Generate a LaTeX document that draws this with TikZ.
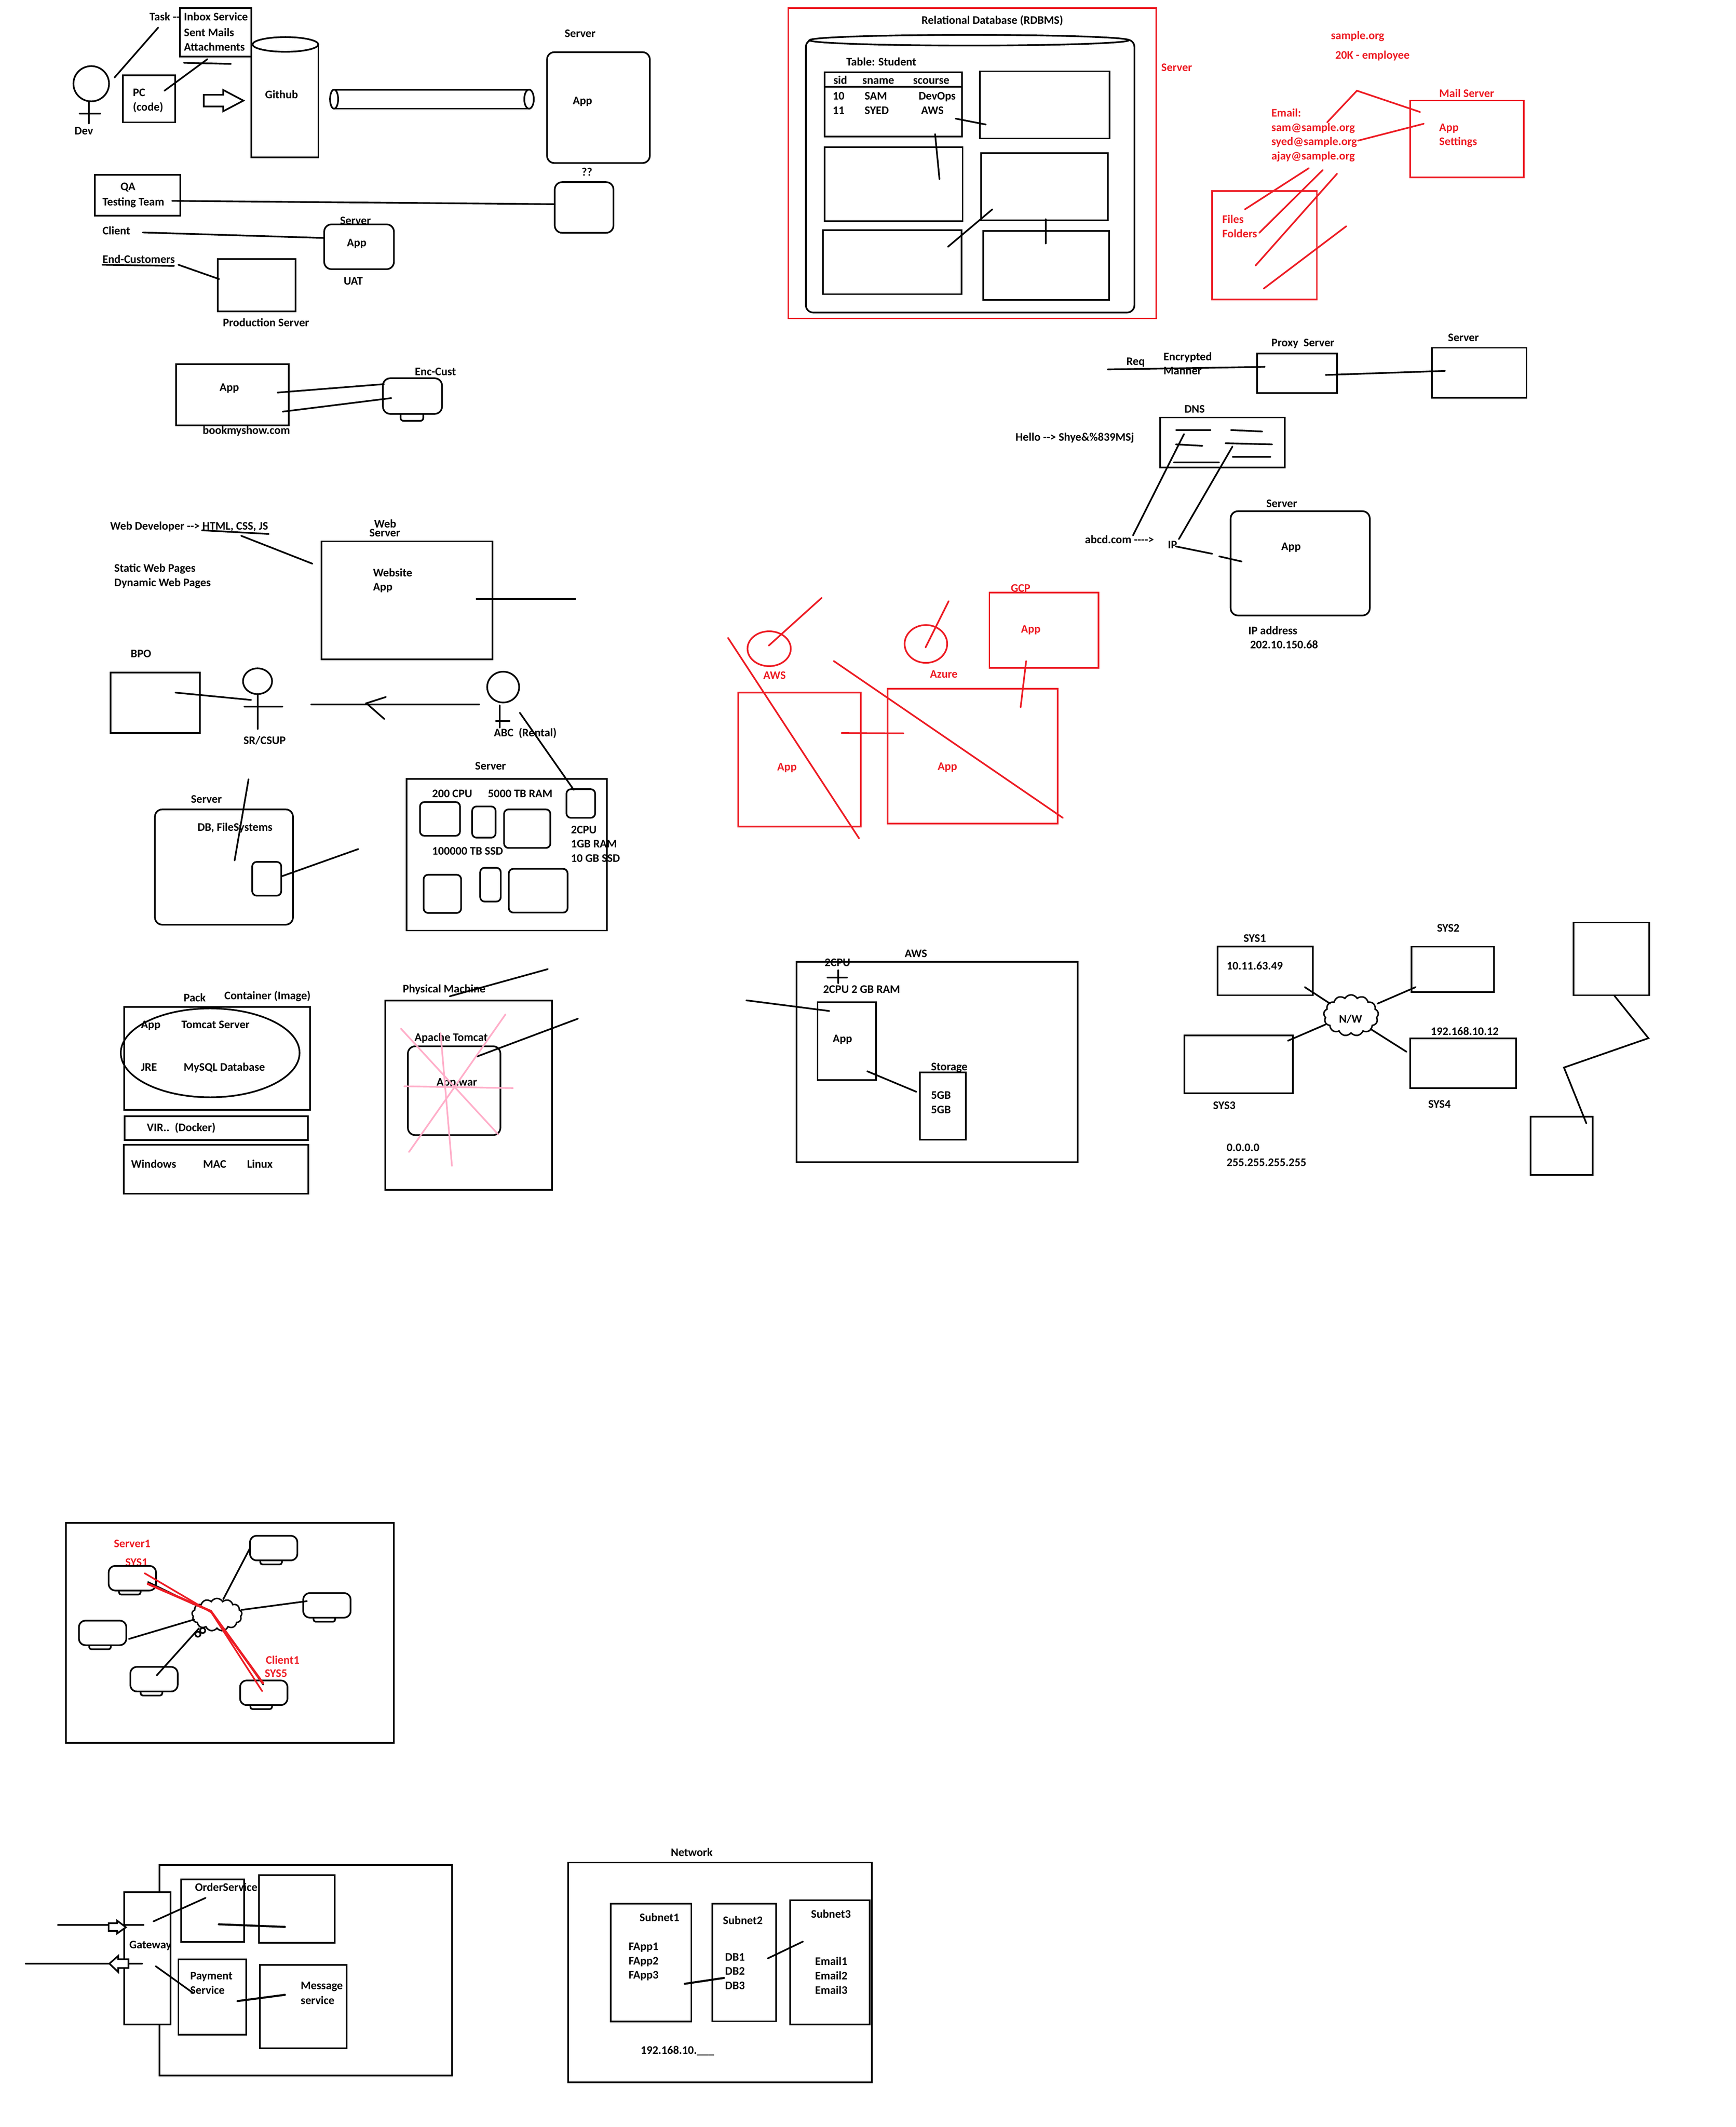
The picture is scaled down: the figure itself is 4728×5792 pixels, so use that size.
\documentclass[tikz,border=0pt]{standalone}
\usepackage{fontspec}
\setmainfont{Carlito}
\usetikzlibrary{shapes.geometric,shapes.symbols}
\definecolor{pred}{HTML}{ED1C24}
\definecolor{ppink}{HTML}{FFAEC9}
\newcount\tcnt
\newcount\lcnt
\tikzset{
 lbl/.style={font=\bfseries\fontsize{31.5}{36}\selectfont,anchor=west,inner sep=0pt,text height=22pt,text depth=7pt,yshift=-3pt},
 redt/.style={text=pred},
 box/.style={draw=black,line width=4.5pt,fill=none,inner sep=0pt,outer sep=0pt,rectangle},
 rbox/.style={box,rounded corners=20pt},
 sbox/.style={box,rounded corners=12pt},
 wbox/.style={box,fill=white},
 redbox/.style={box,draw=pred},
 ell/.style={draw=black,line width=4.5pt,ellipse,inner sep=0pt,outer sep=0pt,fill=none},
 redell/.style={ell,draw=pred},
 ln/.style={draw=black,line width=4.5pt,line cap=round},
 thk/.style={ln,line width=5.5pt},
 rl/.style={ln,draw=pred},
 rthk/.style={ln,draw=pred,line width=6.5pt},
 pk/.style={ln,draw=ppink},
 cld/.style={draw=black,line width=4pt,cloud,cloud puffs=13,cloud puff arc=120,aspect=1.4,inner sep=0pt,outer sep=0pt},
}
\newcommand\tx[4][]{\global\advance\tcnt by 1\relax\node[lbl,#1] (t\the\tcnt) at (#2,#3) {#4};}
\newcommand\bx[6][box]{\pgfmathsetmacro\bw{(#5)-(#3)}\pgfmathsetmacro\bh{(#6)-(#4)}\pgfmathsetmacro\bcx{((#3)+(#5))/2}\pgfmathsetmacro\bcy{((#4)+(#6))/2}\node[#1,minimum width=\bw pt,minimum height=\bh pt] (#2) at (\bcx,\bcy) {};}
\newcommand\el[6][ell]{\pgfmathsetmacro\bw{(#5)-(#3)}\pgfmathsetmacro\bh{(#6)-(#4)}\pgfmathsetmacro\bcx{((#3)+(#5))/2}\pgfmathsetmacro\bcy{((#4)+(#6))/2}\node[#1,minimum width=\bw pt,minimum height=\bh pt] (#2) at (\bcx,\bcy) {};}
\newcommand\lnk[3][ln]{\global\advance\lcnt by 1\relax\coordinate (pa\the\lcnt) at (#2);\coordinate (pb\the\lcnt) at (#3);\draw[#1] (pa\the\lcnt) -- (pb\the\lcnt);}
\newcommand\mon[3]{\bx[box,rounded corners=6pt]{#1s}{#2+28}{#3+60}{#2+87}{#3+78}\bx[wbox,rounded corners=18pt]{#1}{#2}{#3}{#2+129}{#3+67}}
\begin{document}
\begin{tikzpicture}[x=1pt,y=-1pt]
\useasboundingbox[fill=white] (0,0) rectangle (4728,5792);
%% --- dev / github
\el{devhead}{200}{180}{297}{276}
\lnk{242,276}{242,336}
\lnk{217,309}{273,309}
\tx{203}{356}{Dev}
\lnk{312,211}{431,75}
\tx{407}{46}{Task -{}-}
\bx{inbox}{490}{22}{685}{154}
\tx{501}{46}{Inbox Service}
\tx{501}{89}{Sent Mails}
\tx{501}{128}{Attachments}
\lnk{501,171}{629,174}
\lnk{448,247}{565,161}
\bx{pc}{335}{205}{477}{333}
\tx{362}{252}{PC}
\tx{362}{291}{(code)}
\draw[line width=4.5pt,line join=miter,fill=white] (555,258) -- (608,258) -- (608,245) -- (663,274) -- (608,303) -- (608,290) -- (555,290) -- cycle;
\coordinate (gha) at (685,121);\coordinate (ghb) at (685,429);\coordinate (ghc) at (867,429);\coordinate (ghd) at (867,121);
\draw[ln,line cap=butt] (gha) -- (ghb) -- (ghc) -- (ghd);
\el[ell,fill=white]{ghtop}{688}{101}{867}{141}
\tx{722}{258}{Github}
\coordinate (pia) at (909,244);\coordinate (pib) at (1440,244);\coordinate (pic) at (909,296);\coordinate (pid) at (1440,296);
\draw[ln] (pia) -- (pib);\draw[ln] (pic) -- (pid);
\el{pil}{899}{244}{921}{296}
\el{pir}{1428}{244}{1454}{296}
\tx{1538}{91}{Server}
\bx[rbox]{srv1}{1490}{142}{1770}{444}
\tx{1560}{274}{App}
\tx{1584}{468}{??}
\bx{qa}{258}{476}{491}{587}
\tx{328}{508}{QA}
\tx{279}{550}{Testing Team}
\bx[rbox]{qq}{1511}{496}{1671}{634}
\lnk{469,547}{1511,556}
\tx{279}{628}{Client}
\bx[rbox]{uat}{883}{611}{1073}{733}
\lnk{389,633}{883,648}
\tx{926}{601}{Server}
\tx{945}{661}{App}
\tx{936}{765}{UAT}
\tx{279}{706}{End-Customers}
\lnk{279,721}{474,724}
\lnk{486,721}{597,760}
\bx{prod}{593}{705}{805}{848}
\tx{607}{878}{Production Server}
\bx{bapp}{480}{992}{787}{1158}
\tx{598}{1055}{App}
\tx{552}{1172}{bookmyshow.com}
\bx[box,rounded corners=8pt]{encs}{1091}{1120}{1153}{1146}
\bx[wbox,rounded corners=20pt]{enc}{1043}{1030}{1204}{1127}
\lnk{756,1069}{1046,1046}
\lnk{770,1121}{1066,1084}
\tx{1130}{1012}{Enc-Cust}
%% --- RDBMS
\bx[redbox]{rsrv}{2147}{22}{3150}{867}
\tx{2510}{55}{Relational Database (RDBMS)}
\tx[redt]{3163}{184}{Server}
\bx[rbox]{db}{2195}{108}{3090}{851}
\el[ell,fill=white]{dbtop}{2205}{95}{3075}{124}
\tx{2305}{168}{Table: Student}
\bx{tbl}{2246}{197}{2620}{372}
\coordinate (tha) at (2246,236);\coordinate (thb) at (2620,236);
\draw[ln] (tha) -- (thb);
\tx{2270}{218}{sid}\tx{2349}{218}{sname}\tx{2487}{218}{scourse}
\tx{2268}{261}{10}\tx{2355}{261}{SAM}\tx{2502}{261}{DevOps}
\tx{2268}{300}{11}\tx{2355}{300}{SYED}\tx{2509}{300}{AWS}
\bx{tb2}{2669}{194}{3022}{377}
\bx{tb3}{2246}{401}{2622}{602}
\bx{tb4}{2672}{417}{3018}{600}
\bx{tb5}{2241}{627}{2619}{801}
\bx{tb6}{2678}{629}{3021}{817}
\lnk{2603,323}{2685,339}
\lnk{2547,365}{2559,488}
\lnk{2582,672}{2703,570}
\lnk{2848,597}{2848,663}
%% --- mail
\tx[redt]{3625}{97}{sample.org}
\tx[redt]{3637}{150}{20K - employee}
\tx[redt]{3920}{254}{Mail Server}
\bx[redbox]{mail}{3841}{274}{4150}{483}
\tx[redt]{3920}{347}{App}
\tx[redt]{3920}{385}{Settings}
\tx[redt]{3463}{308}{Email:}
\tx[redt]{3463}{347}{sam@sample.org}
\tx[redt]{3463}{385}{syed@sample.org}
\tx[redt]{3463}{424}{ajay@sample.org}
\coordinate (ma) at (3615,333);\coordinate (mb) at (3696,247);\coordinate (mc) at (3868,305);
\draw[rl] (ma) -- (mb) -- (mc);
\lnk[rl]{3699,383}{3878,337}
\bx[redbox]{files}{3301}{520}{3587}{815}
\tx[redt]{3329}{597}{Files}
\tx[redt]{3329}{637}{Folders}
\lnk[rl]{3391,570}{3565,458}
\lnk[rl]{3430,634}{3603,463}
\lnk[rl]{3420,723}{3642,473}
\lnk[rl]{3442,786}{3667,616}
%% --- proxy / DNS
\tx{3068}{984}{Req}
\tx{3169}{971}{Encrypted}
\tx{3169}{1010}{Manner}
\lnk{3017,1006}{3445,999}
\tx{3463}{933}{Proxy\ \ Server}
\bx{proxy}{3424}{963}{3642}{1070}
\lnk{3611,1021}{3936,1010}
\tx{3944}{919}{Server}
\bx{psrv}{3900}{947}{4158}{1083}
\tx{3226}{1114}{DNS}
\bx{dns}{3160}{1137}{3499}{1273}
\tx{2766}{1190}{Hello -{}-> Shye\&\%839MSj}
\lnk{3204,1171}{3297,1171}
\lnk{3353,1171}{3438,1175}
\lnk{3203,1210}{3275,1214}
\lnk{3338,1207}{3465,1210}
\lnk{3358,1244}{3460,1244}
\lnk{3198,1259}{3320,1259}
\lnk{3225,1182}{3086,1458}
\lnk{3357,1216}{3211,1468}
\tx{2955}{1469}{abcd.com -{}-{}-{}->}
\tx{3181}{1483}{IP}
\lnk{3203,1488}{3302,1508}
\lnk{3321,1515}{3382,1529}
\tx{3449}{1371}{Server}
\bx[rbox]{ipsrv}{3352}{1392}{3731}{1676}
\tx{3490}{1488}{App}
\tx{3400}{1717}{IP address}
\tx{3405}{1755}{202.10.150.68}
%% --- clouds AWS/Azure/GCP
\el[redell]{awsc}{2036}{1719}{2154}{1814}
\lnk[rl]{2094,1758}{2238,1628}
\lnk[rl]{1983,1737}{2340,2283}
\tx[redt]{2079}{1839}{AWS}
\el[redell]{azc}{2464}{1702}{2580}{1805}
\lnk[rl]{2521,1763}{2584,1637}
\tx[redt]{2533}{1835}{Azure}
\tx[redt]{2753}{1601}{GCP}
\bx[redbox]{gcp}{2695}{1614}{2992}{1819}
\tx[redt]{2781}{1713}{App}
\lnk[rl]{2795,1800}{2780,1926}
\lnk[rl]{2271,1800}{2895,2227}
\bx[redbox]{awsb}{2011}{1886}{2345}{2251}
\tx[redt]{2117}{2088}{App}
\bx[redbox]{azb}{2418}{1875}{2881}{2243}
\tx[redt]{2554}{2087}{App}
\lnk[rl]{2292,1996}{2461,1997}
%% --- web server
\tx{300}{1432}{Web Developer -{}-> HTML, CSS, JS}
\lnk{550,1444}{732,1454}
\lnk{657,1459}{851,1535}
\tx{311}{1547}{Static Web Pages}
\tx{311}{1586}{Dynamic Web Pages}
\tx{1019}{1427}{Web}
\tx{1006}{1451}{Server}
\bx{web}{876}{1474}{1341}{1795}
\tx{1016}{1560}{Website}
\tx{1016}{1598}{App}
\lnk{1298,1631}{1567,1631}
\tx{356}{1780}{BPO}
\bx{bpo}{301}{1831}{544}{1996}
\lnk{478,1886}{684,1906}
\el{srh}{662}{1820}{741}{1890}
\lnk{702,1890}{702,1985}
\lnk{666,1924}{769,1924}
\tx{663}{2016}{SR/CSUP}
\lnk{848,1918}{1305,1918}
\coordinate (aha) at (1051,1898);\coordinate (ahb) at (998,1915);\coordinate (ahc) at (1047,1958);
\draw[ln] (aha) -- (ahb) -- (ahc);
\el{abch}{1327}{1829}{1414}{1913}
\lnk{1361,1921}{1361,1981}
\lnk{1351,1963}{1388,1963}
\tx{1345}{1995}{ABC\ \ (Rental)}
\lnk{1416,1941}{1563,2151}
\tx{1294}{2086}{Server}
\bx{bigs}{1107}{2121}{1653}{2534}
\tx{1177}{2161}{200 CPU}
\tx{1329}{2161}{5000 TB RAM}
\bx[sbox]{sa}{1144}{2184}{1253}{2276}
\bx[sbox]{sb}{1286}{2196}{1350}{2281}
\bx[sbox]{sc}{1373}{2204}{1499}{2309}
\bx[sbox]{ss}{1543}{2149}{1621}{2227}
\tx{1555}{2259}{2CPU}
\tx{1555}{2298}{1GB RAM}
\tx{1555}{2337}{10 GB SSD}
\tx{1177}{2317}{100000 TB SSD}
\bx[sbox]{sd}{1154}{2382}{1256}{2486}
\bx[sbox]{se}{1308}{2363}{1364}{2455}
\bx[sbox]{sf}{1386}{2366}{1546}{2485}
\tx{520}{2176}{Server}
\bx[rbox]{dbf}{422}{2204}{798}{2518}
\tx{538}{2252}{DB, FileSystems}
\lnk{677,2122}{639,2343}
\bx[sbox]{dbs}{687}{2347}{766}{2439}
\lnk{768,2386}{976,2312}
%% --- container
\tx{500}{2717}{Pack}
\tx{611}{2711}{Container (Image)}
\bx{pack}{338}{2742}{844}{3022}
\el{packe}{329}{2746}{816}{2988}
\tx{384}{2790}{App}
\tx{494}{2790}{Tomcat Server}
\tx{384}{2906}{JRE}
\tx{500}{2906}{MySQL Database}
\bx{vir}{339}{3040}{839}{3104}
\tx{400}{3070}{VIR..\ \ (Docker)}
\bx{os}{337}{3117}{840}{3250}
\tx{357}{3170}{Windows}
\tx{553}{3170}{MAC}
\tx{673}{3170}{Linux}
\tx{1097}{2693}{Physical Machine}
\lnk{1225,2713}{1492,2639}
\bx{phy}{1050}{2725}{1504}{3240}
\tx{1129}{2825}{Apache Tomcat}
\bx[rbox]{tom}{1111}{2849}{1363}{3091}
\tx{1189}{2946}{App.war}
\lnk{1299,2877}{1574,2774}
\lnk[pk]{1092,2801}{1357,3089}
\lnk[pk]{1377,2762}{1114,3137}
\lnk[pk]{1200,2813}{1231,3175}
\lnk[pk]{1101,2958}{1397,2963}
%% --- AWS
\tx{2464}{2596}{AWS}
\bx{awsbox}{2170}{2619}{2935}{3165}
\tx{2246}{2621}{2CPU}
\lnk{2283,2642}{2283,2677}
\lnk{2254,2662}{2307,2662}
\tx{2242}{2694}{2CPU 2 GB RAM}
\bx{awsapp}{2227}{2729}{2386}{2941}
\lnk{2033,2724}{2259,2753}
\tx{2268}{2828}{App}
\lnk{2362,2917}{2496,2973}
\tx{2536}{2905}{Storage}
\bx{stor}{2506}{2920}{2631}{3103}
\tx{2536}{2982}{5GB}
\tx{2536}{3022}{5GB}
%% --- network sys
\tx{3387}{2555}{SYS1}
\bx{sys1}{3316}{2577}{3576}{2710}
\tx{3341}{2630}{10.11.63.49}
\tx{3914}{2527}{SYS2}
\bx{sys2}{3845}{2578}{4069}{2701}
\bx{sys3}{3226}{2820}{3522}{2977}
\tx{3304}{3010}{SYS3}
\bx{sys4}{3841}{2828}{4130}{2963}
\tx{3897}{2809}{192.168.10.12}
\tx{3890}{3007}{SYS4}
\node[cld,minimum width=149pt,minimum height=112pt] (nw) at (3680,2765) {};
\tx{3647}{2775}{N/W}
\lnk{3554,2688}{3623,2733}
\lnk{3856,2688}{3752,2733}
\lnk{3610,2790}{3508,2834}
\lnk{3733,2802}{3831,2864}
\tx{3341}{3125}{0.0.0.0}
\tx{3341}{3165}{255.255.255.255}
\bx{rt}{4286}{2512}{4492}{2710}
\bx{rb}{4169}{3041}{4338}{3199}
\coordinate (za) at (4397,2711);\coordinate (zb) at (4490,2827);\coordinate (zc) at (4260,2907);\coordinate (zd) at (4321,3059);
\draw[ln] (za) -- (zb) -- (zc) -- (zd);
%% --- LAN
\bx{lan}{180}{4147}{1073}{4746}
\tx[redt]{310}{4203}{Server1}
\tx[redt]{341}{4254}{SYS1}
\mon{m1}{296}{4264}
\mon{m2}{681}{4182}
\mon{m3}{826}{4338}
\mon{m4}{215}{4413}
\mon{m5}{355}{4539}
\mon{m6}{654}{4576}
\node[cld,minimum width=136pt,minimum height=89pt] (lc) at (591,4397) {};
\el{lcb}{545}{4433}{559}{4447}
\el{lcc}{532}{4443}{546}{4457}
\lnk{m2.west}{608,4355}
\lnk{657,4384}{836,4360}
\lnk{351,4463}{529,4410}
\lnk{427,4562}{542,4434}
\lnk{717,4587}{609,4434}
\lnk{403,4308}{529,4369}
\coordinate (ra) at (394,4284);\coordinate (rb) at (576,4391);\coordinate (rc) at (714,4605);
\draw[rl] (ra) -- (rb) -- (rc);
\coordinate (rd) at (403,4313);\coordinate (re) at (574,4387);\coordinate (rf) at (716,4583);
\draw[rthk] (rd) -- (re) -- (rf);
\tx[redt]{724}{4521}{Client1}
\tx[redt]{721}{4557}{SYS5}
%% --- gateway
\bx{svc}{434}{5078}{1231}{5652}
\bx[wbox]{gw}{338}{5153}{465}{5513}
\tx{352}{5295}{Gateway}
\bx{order}{493}{5118}{665}{5288}
\tx{531}{5139}{OrderService}
\bx{ob}{705}{5106}{912}{5290}
\lnk{418,5232}{560,5168}
\lnk[thk]{596,5240}{776,5247}
\lnk{158,5242}{391,5242}
\draw[line width=4.5pt,fill=white] (296,5237) -- (319,5237) -- (319,5230) -- (343,5248) -- (319,5265) -- (319,5258) -- (296,5258) -- cycle;
\lnk{70,5347}{387,5347}
\draw[line width=4.5pt,fill=white] (298,5347) -- (322,5326) -- (322,5335) -- (350,5335) -- (350,5359) -- (322,5359) -- (322,5370) -- cycle;
\bx{pay}{486}{5336}{671}{5541}
\tx{518}{5380}{Payment}
\tx{518}{5419}{Service}
\lnk{424,5354}{526,5427}
\bx{msg}{708}{5351}{944}{5578}
\tx{819}{5407}{Message}
\tx{819}{5447}{service}
\lnk[thk]{647,5449}{776,5432}
%% --- subnet
\tx{1827}{5044}{Network}
\bx{net}{1548}{5072}{2375}{5670}
\bx{sn1}{1663}{5184}{1883}{5505}
\tx{1742}{5221}{Subnet1}
\tx{1712}{5300}{FApp1}
\tx{1712}{5339}{FApp2}
\tx{1712}{5378}{FApp3}
\bx{sn2}{1940}{5184}{2114}{5504}
\tx{1969}{5229}{Subnet2}
\tx{1975}{5329}{DB1}
\tx{1975}{5367}{DB2}
\tx{1975}{5407}{DB3}
\bx{sn3}{2152}{5175}{2369}{5513}
\tx{2209}{5212}{Subnet3}
\tx{2220}{5341}{Email1}
\tx{2220}{5380}{Email2}
\tx{2220}{5419}{Email3}
\lnk[thk]{1865,5402}{1972,5386}
\lnk{2091,5333}{2187,5287}
\tx{1745}{5583}{192.168.10.\_\_\_}
\end{tikzpicture}
\end{document}
